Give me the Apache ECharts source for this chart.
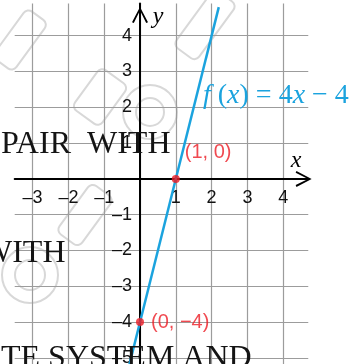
<!DOCTYPE html>
<html>
<head>
<meta charset="utf-8">
<script src="https://cdn.jsdelivr.net/npm/echarts@6/dist/echarts.min.js"></script>
<style>
  html, body { margin: 0; padding: 0; background: #fff; }
  #chart { width: 358px; height: 364px; }
</style>
</head>
<body>
<div id="chart"></div>
<script>
// Grid values along each axis (0 gets a grid line but no label)
const xGridValues = [-3, -2, -1, 0, 1, 2, 3, 4];
const xLabelValues = [-3, -2, -1, 1, 2, 3, 4];
const yGridValues = [-5, -4, -3, -2, -1, 0, 1, 2, 3, 4];
const yLabelValues = [-5, -4, -3, -2, -1, 1, 2, 3, 4];

// f(x) = 4x - 4, drawn between two of its points
const lineX = [-0.3, 2.2];
const lineY = [-5.2, 4.8];

// Marked intercepts
const pointX = [1, 0];
const pointY = [0, -4];
const pointLabels = ['(1, 0)', '(0, \u22124)'];

const BLUE = '#1ba3de';
const RED = '#ec1c24';
const GRIDC = '#9c9c9c';

// plotting window
const X_MIN = -3.5, X_MAX = 4.7, Y_MIN = -5.2, Y_MAX = 4.9;
const UNIT = 35.8;
const GRID = { left: 14.7, top: 3.5, width: (X_MAX - X_MIN) * UNIT, height: (Y_MAX - Y_MIN) * UNIT };
// the axes cross at the origin: shift them in from the grid edges
const xAxisShift = -(Y_MIN * -UNIT);   // bottom edge -> y = 0
const yAxisShift = -(-X_MIN * UNIT);   // left edge -> x = 0

const chart = echarts.init(document.getElementById('chart'));

const fmt = v => (v < 0 ? '\u2013' + (-v) : String(v));
const arrowPath = 'path://M8,0 L16,15.2 L14.2,16 L8,3.6 L1.8,16 L0,15.2 Z';

const lineData = lineX.map((x, i) => [x, lineY[i]]);
const pointData = pointX.map((x, i) => ({ value: [x, pointY[i]], label: { formatter: pointLabels[i] } }));

// faint stamp-like outlines in the background
const wm = { stroke: '#d8d8d8', fill: 'none', lineWidth: 2 };
const stampShapes = [
  { type: 'rect', x: 20, y: 40, rot: 0.94, w: 60, h: 26 },
  { type: 'rect', x: 100, y: 97, rot: 0.94, w: 50, h: 34 },
  { type: 'rect', x: 205, y: 25, rot: 0.94, w: 70, h: 28 },
  { type: 'rect', x: 85, y: 215, rot: 0.94, w: 60, h: 28 },
  { type: 'ring', x: 150, y: 112, r: 27, r0: 14 },
  { type: 'ring', x: 30, y: 275, r: 28, r0: 15 }
];
const stampGraphics = stampShapes.map(s => {
  if (s.type === 'rect') {
    return {
      type: 'rect', x: s.x, y: s.y, rotation: s.rot, z: 0, silent: true,
      shape: { x: -s.w / 2, y: -s.h / 2, width: s.w, height: s.h, r: 6 },
      style: wm
    };
  }
  return {
    type: 'group', x: s.x, y: s.y, z: 0, silent: true,
    children: [
      { type: 'circle', shape: { r: s.r }, style: wm },
      { type: 'circle', shape: { r: s.r0 }, style: wm }
    ]
  };
});

const overlayFont = { fontFamily: '"Liberation Serif", "Times New Roman", serif', fontSize: 32, fill: '#141414' };
const tickFont = { color: '#111', fontSize: 18, fontFamily: '"Liberation Sans", Arial, sans-serif' };

chart.setOption({
  animation: false,
  backgroundColor: '#fff',
  grid: Object.assign({ containLabel: false, outerBoundsMode: 'none' }, GRID),
  xAxis: {
    type: 'value', min: X_MIN, max: X_MAX, position: 'bottom', offset: xAxisShift,
    axisLine: {
      onZero: false,
      lineStyle: { color: '#000', width: 2 },
      symbol: ['none', arrowPath], symbolSize: [16, 16], symbolOffset: [0, -4.6]
    },
    axisTick: { show: false, customValues: xGridValues },
    splitLine: { show: true, lineStyle: { color: GRIDC, width: 1.2 } },
    axisLabel: Object.assign({ customValues: xLabelValues, formatter: fmt, margin: 10 }, tickFont)
  },
  yAxis: {
    type: 'value', min: Y_MIN, max: Y_MAX, position: 'left', offset: yAxisShift,
    axisLine: {
      onZero: false,
      lineStyle: { color: '#000', width: 2 },
      symbol: ['none', arrowPath], symbolSize: [16, 16], symbolOffset: [0, -11.5]
    },
    axisTick: { show: false, customValues: yGridValues },
    splitLine: { show: true, lineStyle: { color: GRIDC, width: 1.2 } },
    axisLabel: Object.assign({ customValues: yLabelValues, formatter: fmt, margin: 8 }, tickFont)
  },
  series: [
    {
      type: 'line', data: lineData, showSymbol: false, clip: true, z: 3,
      lineStyle: { color: BLUE, width: 2.5 }
    },
    {
      type: 'scatter', data: pointData, symbolSize: 8, z: 4,
      itemStyle: { color: RED },
      label: {
        show: true, position: 'right', color: RED, fontSize: 20,
        fontFamily: '"Liberation Sans", Arial, sans-serif'
      },
      labelLayout: function (p) {
        return p.dataIndex === 0 ? { dx: 0, dy: -26 } : { dx: 2, dy: 0 };
      }
    }
  ],
  graphic: stampGraphics.concat([
    {
      type: 'text', x: 296, y: 161, z: 10, silent: true,
      style: { text: 'x', fontFamily: '"Liberation Serif", serif', fontStyle: 'italic', fontSize: 24, fill: '#000', align: 'center', verticalAlign: 'middle' }
    },
    {
      type: 'text', x: 158, y: 17, z: 10, silent: true,
      style: { text: 'y', fontFamily: '"Liberation Serif", serif', fontStyle: 'italic', fontSize: 24, fill: '#000', align: 'center', verticalAlign: 'middle' }
    },
    {
      type: 'text', x: 203, y: 96, z: 10, silent: true,
      style: {
        text: '{i|f} ({i|x}) = 4{i|x} \u2212 4',
        fontFamily: '"Liberation Serif", serif', fontSize: 28, fill: BLUE, verticalAlign: 'middle',
        rich: { i: { fontFamily: '"Liberation Serif", serif', fontStyle: 'italic', fontSize: 28, fill: BLUE } }
      }
    },
    { type: 'text', x: 1, y: 145, z: 20, silent: true, style: Object.assign({ text: 'PAIR  WITH', verticalAlign: 'middle' }, overlayFont) },
    { type: 'text', x: -18, y: 254, z: 20, silent: true, style: Object.assign({ text: 'WITH', verticalAlign: 'middle' }, overlayFont) },
    { type: 'text', x: 1, y: 359, z: 20, silent: true, style: Object.assign({ text: 'TE SYSTEM AND', verticalAlign: 'middle' }, overlayFont) }
  ])
});
</script>
</body>
</html>
